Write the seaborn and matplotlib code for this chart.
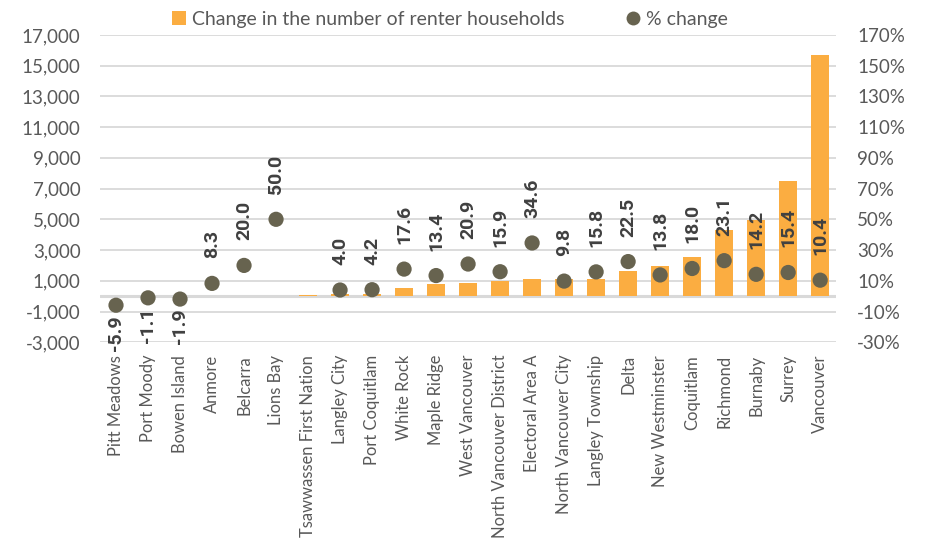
import matplotlib
matplotlib.use("Agg")
import numpy as np
import pandas as pd
import seaborn as sns
import matplotlib.pyplot as plt
from matplotlib.ticker import FuncFormatter
from matplotlib.lines import Line2D
from matplotlib.patches import Patch

# Data
municipalities = [
    "Pitt Meadows", "Port Moody", "Bowen Island", "Anmore", "Belcarra",
    "Lions Bay", "Tsawwassen First Nation", "Langley City", "Port Coquitlam",
    "White Rock", "Maple Ridge", "West Vancouver", "North Vancouver District",
    "Electoral Area A", "North Vancouver City", "Langley Township", "Delta",
    "New Westminster", "Coquitlam", "Richmond", "Burnaby", "Surrey", "Vancouver",
]
renter_change = [
    -10, -5, -5, 10, 5, 5, 60, 110, 110, 530, 780, 840, 1010,
    1100, 1110, 1120, 1660, 1970, 2570, 4310, 4960, 7500, 15710,
]
pct_change = [
    -5.9, -1.1, -1.9, 8.3, 20.0, 50.0, None, 4.0, 4.2, 17.6, 13.4, 20.9,
    15.9, 34.6, 9.8, 15.8, 22.5, 13.8, 18.0, 23.1, 14.2, 15.4, 10.4,
]

df = pd.DataFrame({
    "municipality": municipalities,
    "change": renter_change,
    "pct": pct_change,
})

bar_color = "#FBAD41"
dot_color = "#67634F"
text_color = "#595959"
label_color = "#404040"
grid_color = "#D9D9D9"

sns.set_style("white")
plt.rcParams["font.family"] = ["Lato", "DejaVu Sans"]

fig = plt.figure(figsize=(9.26, 5.45), dpi=100)
ax = fig.add_axes([0.108, 0.372, 0.795, 0.564])

# zero line under the bars, gridlines under everything
ax.axhline(0, color=grid_color, linewidth=2.2, zorder=1)
sns.barplot(data=df, x="municipality", y="change", color=bar_color,
            width=0.56, saturation=1, linewidth=0, edgecolor="none",
            ax=ax, zorder=2)
ax.set_ylim(-3000, 17000)
ax.set_yticks(list(range(-3000, 17001, 2000)))
ax.yaxis.set_major_formatter(FuncFormatter(lambda v, p: f"{v:,.0f}"))
ax.grid(axis="y", color=grid_color, linewidth=1.3, zorder=0)
ax.set_axisbelow(True)
ax.set_xlabel("")
ax.set_ylabel("")
ax.set_xlim(-0.5, len(municipalities) - 0.5)
for s in ax.spines.values():
    s.set_visible(False)
ax.tick_params(axis="y", length=0, pad=14, labelsize=13.5, labelcolor=text_color)
ax.tick_params(axis="x", length=0, pad=9, labelsize=11.9, labelcolor=text_color,
               labelrotation=90)

ax2 = ax.twinx()
pts = df.dropna(subset=["pct"])
sns.scatterplot(data=pts, x="municipality", y="pct", color=dot_color, s=120,
                edgecolor="none", ax=ax2, zorder=3)
ax2.set_ylim(-30, 170)
ax2.set_yticks(list(range(-30, 171, 20)))
ax2.yaxis.set_major_formatter(FuncFormatter(lambda v, p: f"{v:.0f}%"))
ax2.set_ylabel("")
for s in ax2.spines.values():
    s.set_visible(False)
ax2.tick_params(axis="y", length=0, pad=15, labelsize=13.5, labelcolor=text_color)
ax2.grid(False)

for i, v in enumerate(pct_change):
    if v is None:
        continue
    if v >= 0:
        off, va = 18, "bottom"
    else:
        off, va = -7, "top"
    ax2.annotate(f"{v:.1f}", (i, v), xytext=(0, off), textcoords="offset points",
                 rotation=90, ha="center", va=va, fontsize=14,
                 fontweight="bold", color=label_color,
                 family=["Roboto", "DejaVu Sans"])

handles = [
    Patch(facecolor=bar_color, edgecolor="none", label="Change in the number of renter households"),
    Line2D([0], [0], marker="o", color="none", markerfacecolor=dot_color,
           markeredgecolor="none", markersize=10, label="% change"),
]
fig.legend(handles=handles, loc="center", bbox_to_anchor=(0.486, 0.965), ncol=2,
           frameon=False, fontsize=14, labelcolor=text_color, handlelength=0.7,
           handleheight=0.7, handletextpad=0.3, columnspacing=3.2)

fig.savefig("out.png", dpi=100)
